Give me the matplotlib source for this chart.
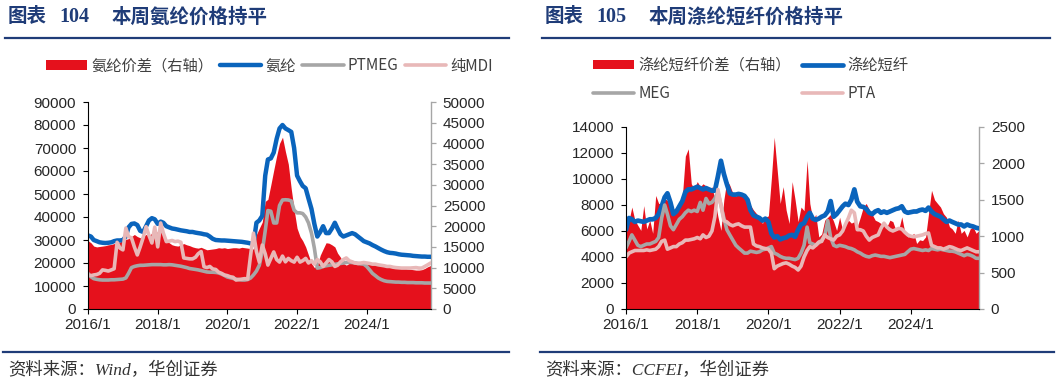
import pandas as pd
import matplotlib
matplotlib.use('Agg')
import matplotlib.pyplot as plt

plt.rcParams['font.family'] = ['Liberation Sans', 'Noto Sans CJK SC']
plt.rcParams['axes.unicode_minus'] = False

W, H = 1058, 384

# ---------------- data: spandex (left chart), monthly 2016/1 - 2025/11 ----------------
months_left = pd.date_range('2016-01-01', periods=119, freq='MS')

spandex = [
    32000, 31500, 30000, 29500, 29000, 28800, 28700, 28800, 29000, 29500, 29800, 29800,
    30000, 31500, 35500, 37000, 37200, 36500, 34000, 33500, 36000, 38500, 39500, 39000,
    37000, 38000, 37500, 36000, 35500, 35000, 34800, 34500, 34200, 34000, 33800, 33500,
    33500, 33200, 33000, 32800, 32500, 32300, 31500, 30500, 30000, 29900, 29800, 29800,
    29700, 29600, 29500, 29400, 29300, 29200, 29000, 28800, 28500, 28200, 37500, 38500,
    40500, 58000, 65000, 65500, 68000, 74000, 78500, 80000, 78500, 77800, 77000, 70000,
    58000, 55500, 53500, 52500, 48000, 43500, 37000, 31500, 33500, 36000, 33000, 33000,
    35000, 37500, 35000, 32500, 31500, 32000, 32500, 33000, 32500, 31500, 30500, 29500,
    29000, 28500, 27800, 27200, 26500, 25800, 25200, 24700, 24400, 24300, 24100, 23800,
    23600, 23500, 23400, 23300, 23100, 23000, 22900, 22800, 22800, 22700, 22700,
]
ptmeg = [
    15500, 14000, 13200, 12900, 12700, 12600, 12600, 12600, 12700, 12700, 12800, 12900,
    13000, 13500, 15500, 18000, 18500, 18800, 19000, 19000, 19100, 19200, 19300, 19300,
    19300, 19300, 19200, 19200, 19300, 19200, 19000, 18800, 18600, 18300, 18000, 17600,
    17400, 17200, 17000, 16700, 16400, 16100, 16000, 16000, 15900, 15700, 15200, 14600,
    13900, 13600, 13300, 13000, 12800, 12600, 12600, 12800, 13500, 14800, 16500, 19000,
    25000, 34000, 42800, 42500, 37400, 37400, 45000, 47400, 47500, 47400, 47000, 43000,
    41800, 41800, 41500, 40000, 37400, 33000, 26500, 17800, 18000, 18500, 18800, 19000,
    19200, 19400, 19600, 19800, 20000, 20200, 20300, 20200, 20000, 19800, 19600, 19500,
    18500, 17000, 15500, 14500, 13500, 12800, 12300, 12000, 11900, 11800, 11700, 11700,
    11600, 11600, 11500, 11500, 11500, 11400, 11400, 11400, 11300, 11300, 11300,
]
mdi = [
    14800, 14500, 14800, 15000, 15500, 17000, 16800, 16500, 17000, 17500, 29000, 26500,
    25700, 35200, 31500, 30900, 27000, 23500, 27000, 31000, 35800, 32000, 28700, 35600,
    27000, 37400, 33000, 29300, 29500, 29800, 29300, 29500, 29000, 22200, 22000, 21800,
    21800, 22500, 24000, 25000, 18400, 18000, 18500, 17400, 17200, 16000, 15500, 14800,
    14500, 14000, 13800, 12600, 12800, 13000, 13200, 13000, 23500, 33000, 25000, 20400,
    27800, 24000, 19100, 22000, 24800, 21500, 20400, 23000, 20500, 22000, 21000, 20400,
    22500, 20400, 21000, 22000, 20000, 21000, 19500, 21500, 20500, 18500, 20000, 21500,
    20500, 18500, 19000, 20500, 21500, 22200, 21000, 20500, 20000, 19800, 20000, 20200,
    20000, 19800, 19500, 19500, 19200, 19000, 18800, 18500, 18500, 18200, 18000, 17900,
    17800, 17800, 17800, 17800, 17900, 18000, 17800, 17800, 18500, 19200, 20000,
]
spandex_spread = [
    16500, 16000, 15200, 15000, 15100, 15200, 15300, 15500, 15600, 15800, 16000, 16200,
    16500, 16800, 17000, 17500, 18000, 17500, 17200, 17600, 18000, 17800, 18300, 18800,
    18500, 18800, 17500, 16500, 16000, 15500, 15300, 15200, 15500, 15800, 15500, 15300,
    15000, 14800, 14700, 14900, 14600, 14300, 14400, 14500, 14600, 14800, 14700, 14800,
    14600, 14700, 14800, 14800, 14700, 14900, 14800, 14700, 14600, 14500, 18000, 19500,
    21000, 26000, 26500, 30000, 33500, 37000, 40000, 41500, 38000, 35000, 29000, 24000,
    19500, 17500, 16500, 15000, 13000, 11000, 10000, 10500, 13000, 14500, 16000, 15900,
    15500, 15000, 13500, 12500, 11000, 10600, 11000, 11200, 11400, 11200, 11300, 11400,
    11400, 11300, 11200, 11000, 10800, 10800, 10700, 10600, 10500, 10400, 10300, 10200,
    10000, 9900, 9700, 9600, 9500, 9400, 9400, 9500, 9800, 10200, 10500,
]

# ---------------- data: polyester staple fibre (right chart), monthly 2016/1 - 2025/12 ----------------
months_right = pd.date_range('2016-01-01', periods=120, freq='MS')

psf = [
    6100, 7000, 6900, 6700, 6800, 6750, 6700, 6800, 6900, 6900, 7000, 7300,
    7900, 8600, 8900, 8200, 7300, 7500, 7900, 8300, 9000, 9200, 9200, 9300,
    9400, 9300, 9200, 9300, 9200, 9100, 9100, 10200, 11400, 10400, 9600, 8900,
    8800, 8800, 8850, 8800, 8700, 8400, 7600, 7200, 7100, 7000, 6800, 6950,
    6700, 5800, 5500, 5600, 5350, 5450, 5500, 5650, 5700, 5550, 6100, 6500,
    6600, 7100, 7400, 6950, 6850, 6950, 7100, 7200, 7500, 8300, 7100, 7300,
    7600, 7900, 8100, 8000, 8400, 9200, 8250, 7900, 7850, 7700, 7400, 7300,
    7500, 7600, 7400, 7500, 7400, 7500, 7600, 7700, 7750, 7900, 7500, 7400,
    7450, 7500, 7500, 7600, 7650, 7550, 7800, 7500, 7300, 7200, 7100, 6900,
    6700, 6800, 6700, 6600, 6500, 6500, 6350, 6500, 6400, 6350, 6250, 6200,
]
meg = [
    4700, 5200, 5700, 5300, 4900, 4800, 4900, 5000, 5000, 5100, 5200, 5500,
    7000, 8000, 7300, 6400, 6100, 6500, 6900, 7100, 7400, 7600, 7500, 7600,
    7500, 8200, 7600, 8500, 8100, 8200, 8500, 9000, 8000, 7000, 6100, 5700,
    5300, 4900, 4700, 4500, 4300, 4300, 4450, 4400, 4350, 4400, 4550, 4600,
    4700, 4800, 4300, 4200, 4050, 3950, 3900, 3900, 3850, 3800, 3900, 4300,
    4900, 6300, 5100, 5000, 4900, 5100, 5300, 5600, 6800, 5500, 4900, 4800,
    4900, 4850, 4800, 4700, 4650, 4550, 4400, 4300, 4150, 4050, 4000, 4100,
    4150, 4100, 4050, 4050, 4000, 3950, 4000, 4050, 4100, 4150, 4200, 4400,
    4600, 4650, 4600, 4550, 4500, 4550, 4500, 4650, 4600, 4550, 4600, 4550,
    4500, 4450, 4450, 4400, 4300, 4200, 4100, 4200, 4150, 4050, 3900, 3900,
]
pta = [
    4000, 4300, 4400, 4500, 4500, 4500, 4500, 4550, 4500, 4550, 4600, 4800,
    5200, 5300, 4600, 4700, 4800, 4800, 5000, 5100, 5300, 5300, 5350, 5400,
    5500, 5400, 5700, 5500, 5600, 6000, 7100, 9200, 8000, 6800, 6700, 6500,
    6400, 6500, 6550, 6400, 6300, 6300, 6300, 5000, 4850, 4800, 4700, 4650,
    4600, 4300, 3100, 3300, 3400, 3500, 3550, 3450, 3300, 3200, 3000, 3300,
    4000, 4500, 4800, 4700, 4900, 5150, 5200, 5700, 5500, 5400, 5300, 5600,
    5700, 6000, 6500, 7000, 7600, 7400, 6100, 6100, 6000, 5600, 5300, 5500,
    5600, 5700, 6200, 6600, 6300, 6100, 6000, 6100, 6200, 6150, 5900, 5700,
    5600, 5550, 5600, 5650, 5700, 5800, 5850, 4900, 4800, 4700, 4700, 4600,
    4700, 4800, 4750, 4650, 4550, 4500, 4600, 4700, 4600, 4500, 4400, 4400,
]
psf_spread = [
    1200, 1220, 1400, 1220, 1150, 1080, 1420, 1100, 1220, 1040, 1560, 1450,
    1450, 1520, 1490, 1400, 1360, 1400, 1450, 1540, 2100, 2200, 1720, 1650,
    1750, 1680, 1720, 1690, 1630, 1680, 1500, 1270, 1080, 1500, 1770, 1700,
    1590, 1550, 1610, 1580, 1560, 1450, 1426, 1360, 1310, 1250, 1175, 1260,
    1280, 1800, 2360, 1900, 1450, 1680, 1360, 1175, 1750, 1500, 1200, 1400,
    1350, 2040, 1450, 1220, 1300, 990, 1030, 1220, 1260, 1300, 1200, 1080,
    1260, 1080, 1170, 1220, 1180, 1200, 1130, 1260, 1400, 1450, 1360, 1300,
    1220, 1200, 1175, 1150, 1130, 1220, 1200, 1083, 1100, 1266, 1050, 990,
    1000, 1040, 900, 950, 940, 990, 1310, 1630, 1500, 1450, 1400, 1310,
    1260, 1130, 1100, 1040, 1220, 1040, 1080, 990, 1100, 1130, 1040, 1080,
]

years = [2016, 2018, 2020, 2022, 2024]
year_ticks = [pd.Timestamp(f'{y}-01-01') for y in years]
year_labels = [f'{y}/1' for y in years]

RED = '#E5111C'
BLUE = '#0A64BC'
GRAY = '#A6A6A6'
PINK = '#E8B8B8'
NAVY = '#1F3C78'
TXT = '#262626'
LEGEND_FONT = ['Noto Sans CJK SC', 'DejaVu Sans']

fig = plt.figure(figsize=(W / 100, H / 100), dpi=100)


def make_axes(left, right, top, bottom):
    ax = fig.add_axes([left / W, 1 - bottom / H, (right - left) / W, (bottom - top) / H])
    ax2 = ax.twinx()
    ax.set_zorder(2)
    ax2.set_zorder(1)
    ax.patch.set_visible(False)
    for s in ['top', 'right']:
        ax.spines[s].set_visible(False)
    for s in ['top', 'left', 'bottom']:
        ax2.spines[s].set_visible(False)
    ax.spines['left'].set_color('#000000')
    ax.spines['bottom'].set_color('#000000')
    ax.spines['left'].set_linewidth(0.8)
    ax.spines['bottom'].set_linewidth(0.8)
    ax2.spines['right'].set_color(GRAY)
    ax2.spines['right'].set_linewidth(1.0)
    ax.tick_params(axis='y', direction='out', length=3.5, width=0.8, pad=5, labelsize=11, labelcolor=TXT)
    ax.tick_params(axis='x', direction='out', length=3.5, width=0.8, pad=3, labelsize=11, labelcolor=TXT)
    ax2.tick_params(axis='y', direction='out', length=3.5, width=0.9, color=GRAY, pad=5,
                    labelsize=11, labelcolor=TXT)
    ax.set_xticks(year_ticks)
    ax.set_xticklabels(year_labels)
    return ax, ax2


def header(x_left, x_right, num, text):
    fig.text(x_left / W, 1 - 17 / H, '图表', fontsize=14, fontweight='bold', color=NAVY,
             family=['Noto Sans CJK SC'], va='center')
    fig.text((x_left + 51) / W, 1 - 17 / H, num, fontsize=14.5, fontweight='bold', color=NAVY,
             family=['Liberation Serif'], va='center')
    fig.text((x_left + 104) / W, 1 - 17 / H, text, fontsize=14, fontweight='bold', color=NAVY,
             family=['Noto Sans CJK SC'], va='center')
    fig.add_artist(plt.Line2D([(x_left - 3) / W, x_right / W], [1 - 37.5 / H] * 2, color=NAVY,
                              lw=1.6, transform=fig.transFigure))


def footer(x_left, x_right, text):
    fig.add_artist(plt.Line2D([x_left / W, x_right / W], [1 - 352 / H] * 2, color=NAVY, lw=1.6,
                              transform=fig.transFigure))
    fig.text((x_left + 5) / W, 1 - 371 / H, text, fontsize=12.5, style='italic', color='#333333',
             family=['Liberation Serif', 'Noto Sans CJK SC'], va='center')


# ---------------- left chart ----------------
ax1, ax1r = make_axes(88, 431, 102, 309)
f1 = ax1r.fill_between(months_left, 0, spandex_spread, color=RED, linewidth=0)
l1, = ax1.plot(months_left, spandex, color=BLUE, lw=3.2, solid_capstyle='round')
l2, = ax1.plot(months_left, ptmeg, color=GRAY, lw=2.6, solid_capstyle='round')
l3, = ax1.plot(months_left, mdi, color=PINK, lw=2.6, solid_capstyle='round')
ax1.set_ylim(0, 90000)
ax1.set_yticks(range(0, 90001, 10000))
ax1r.set_ylim(0, 50000)
ax1r.set_yticks(range(0, 50001, 5000))
ax1.set_xlim(pd.Timestamp('2016-01-01'), pd.Timestamp('2025-11-05'))

fig.legend([f1, l1, l2, l3], ['氨纶价差（右轴）', '氨纶', 'PTMEG', '纯MDI'],
           ncol=4, loc='center left', bbox_to_anchor=(46 / W, 1 - 66 / H), frameon=False,
           handlelength=2.7, handleheight=0.55, handletextpad=0.25, columnspacing=0.45,
           borderpad=0, borderaxespad=0, labelcolor='#404040',
           prop={'family': LEGEND_FONT, 'size': 11})

# ---------------- right chart ----------------
ax2, ax2r = make_axes(626, 979, 127, 309)
f2 = ax2r.fill_between(months_right, 0, psf_spread, color=RED, linewidth=0)
m1, = ax2.plot(months_right, psf, color=BLUE, lw=3.4, solid_capstyle='round')
m2, = ax2.plot(months_right, meg, color=GRAY, lw=2.6, solid_capstyle='round')
m3, = ax2.plot(months_right, pta, color=PINK, lw=2.6, solid_capstyle='round')
ax2.set_ylim(0, 14000)
ax2.set_yticks(range(0, 14001, 2000))
ax2r.set_ylim(0, 2500)
ax2r.set_yticks(range(0, 2501, 500))
ax2.set_xlim(pd.Timestamp('2016-01-01'), pd.Timestamp('2025-12-01'))

# legend fills column by column, so order gives rows: spread / fibre, MEG / PTA
fig.legend([f2, m2, m1, m3], ['涤纶短纤价差（右轴）', 'MEG', '涤纶短纤', 'PTA'],
           ncol=2, loc='upper left', bbox_to_anchor=(593 / W, 1 - 57 / H), frameon=False,
           handlelength=2.7, handleheight=0.55, handletextpad=0.3, columnspacing=0.7,
           labelspacing=0.7, borderpad=0, borderaxespad=0, labelcolor='#404040',
           prop={'family': LEGEND_FONT, 'size': 11})

# ---------------- titles and sources ----------------
header(8, 509, '104', '本周氨纶价格持平')
header(545, 1050, '105', '本周涤纶短纤价格持平')
footer(3, 509, '资料来源：Wind，华创证券')
footer(540, 1054, '资料来源：CCFEI，华创证券')

fig.savefig('out.png', dpi=100)
